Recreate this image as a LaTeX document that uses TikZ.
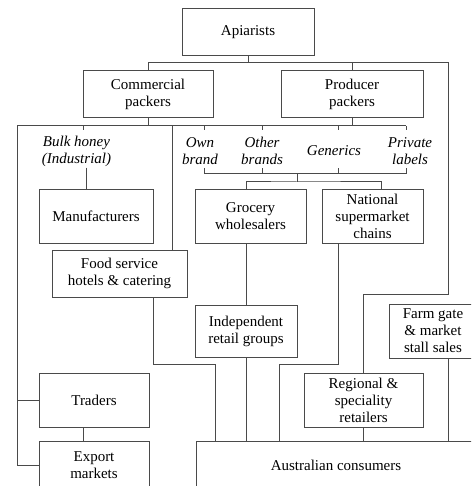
\documentclass[tikz,border=0pt]{standalone}
\usepackage{fontspec}
\setmainfont{Liberation Serif}
\usetikzlibrary{positioning}
\definecolor{rulegray}{HTML}{4A4A4A}

\begin{document}
\begin{tikzpicture}[x=1pt, y=-1pt,
  font=\fontsize{15}{17}\selectfont,
  box/.style={draw=rulegray, line width=1pt, align=center, inner sep=2pt},
  tag/.style={font=\fontsize{15}{17}\selectfont\itshape, align=center, inner sep=1pt},
  link/.style={draw=rulegray, line width=1pt}
]
\useasboundingbox (0,0) rectangle (471,486);
\clip (0,0) rectangle (471,486);

\node[box, minimum width=132, minimum height=47] (apiarists) at (248,32.5) {Apiarists};
\node[box, minimum width=130, minimum height=47] (commercial) at (148,94.5) {Commercial\\packers};
\node[box, minimum width=142, minimum height=47] (producer) at (352,94.5) {Producer\\packers};

\node[tag] (bulk) at (76.5,151) {Bulk honey\\(Industrial)};
\node[tag] (own) at (200,151) {Own\\brand};
\node[tag] (other) at (262,151) {Other\\brands};
\node[tag] (generics) at (334,151) {Generics};
\node[tag] (private) at (410,151) {Private\\labels};

\node[box, minimum width=114, minimum height=54] (manufacturers) at (96,216) {Manufacturers};
\node[box, minimum width=111, minimum height=54] (grocery) at (250.5,216) {Grocery\\wholesalers};
\node[box, minimum width=101, minimum height=54] (national) at (372.5,216) {National\\supermarket\\chains};
\node[box, minimum width=135, minimum height=47] (foodservice) at (119.5,273.5) {Food service\\hotels \& catering};
\node[box, minimum width=102, minimum height=52] (independent) at (246,331) {Independent\\retail groups};
\node[box, minimum width=88, minimum height=54] (farmgate) at (433,331) {Farm gate\\\& market\\stall sales};
\node[box, minimum width=110, minimum height=54] (traders) at (94,400) {Traders};
\node[box, minimum width=119, minimum height=54] (regional) at (363.5,400) {Regional \&\\speciality\\retailers};
\node[box, minimum width=110, minimum height=48] (export) at (94,465) {Export\\markets};
\node[box, minimum width=280, minimum height=48] (consumers) at (336,465) {Australian consumers};

\coordinate (apex) at (248,63);
\coordinate (rside) at (448,63);
\coordinate (rbend) at (448,294);
\coordinate (cbus) at (148,126);
\coordinate (lside) at (17,126);
\coordinate (fsbus) at (172,126);
\coordinate (bbus) at (297,174);
\coordinate (fbend) at (215,364);
\coordinate (nbend) at (279,364);

\draw[link] (apiarists.south) -- (apex);
\draw[link] (commercial.north) |- (rside) -- (rbend) -| (regional.north);
\draw[link] (producer.north) -- (producer.north |- apex);

\draw[link] (commercial.south) -- (cbus);
\draw[link] (producer.south) -- (producer.south |- cbus);
\draw[link] (export.west) -| (lside) -- ([xshift=-4]private.north |- cbus);
\draw[link] (traders.west) -- (traders.west -| lside);
\draw[link] (fsbus) -- (fsbus |- foodservice.north);
\foreach \lab/\dx in {bulk/6.5, own/4, other/0, generics/4, private/-4}
  \draw[link] ([xshift=\dx]\lab.north |- cbus) -- ++(0,4);

\draw[link] ([xshift=4]own.south |- bbus) ++(0,-6) -- ++(0,6) -- ([xshift=-4]private.south |- bbus) -- ++(0,-6);
\foreach \lab/\dx in {other/0, generics/4}
  \draw[link] ([xshift=\dx]\lab.south |- bbus) -- ++(0,-6);
\draw[link] (bbus) -- ++(0,8) coordinate (gbus);
\draw[link] (independent.north |- grocery.north) |- (gbus) -| ([xshift=8.5]national.north);

\draw[link] ([xshift=9.5]bulk.south) -- ([xshift=9.5]bulk.south |- manufacturers.north);
\draw[link] (independent.north |- grocery.south) -- (independent.north);
\draw[link] ([xshift=33.5]foodservice.south) |- (fbend) -- (fbend |- consumers.north);
\draw[link] ([xshift=-34.5]national.south) |- (nbend) -- (nbend |- consumers.north);
\draw[link] (independent.south) -- (independent.south |- consumers.north);
\draw[link] (regional.south) -- (regional.south |- consumers.north);
\draw[link] (farmgate.south -| rbend) -- (rbend |- consumers.north);
\draw[link] ([xshift=-11]traders.south) -- ([xshift=-11]export.north);
\end{tikzpicture}
\end{document}
